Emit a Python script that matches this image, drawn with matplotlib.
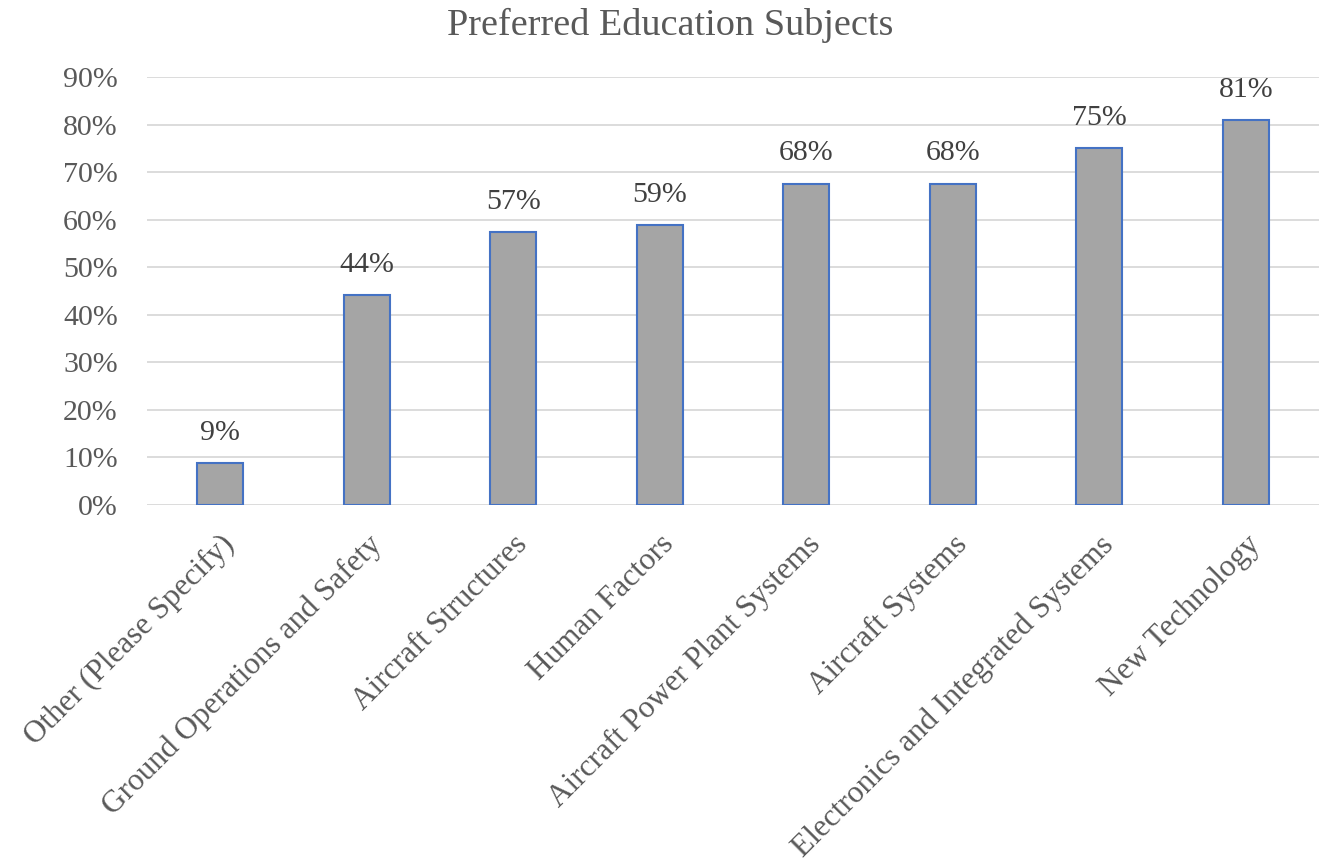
import matplotlib.pyplot as plt
from matplotlib.ticker import PercentFormatter

categories = ['Other (Please Specify)', 'Ground Operations and Safety',
              'Aircraft Structures', 'Human Factors',
              'Aircraft Power Plant Systems', 'Aircraft Systems',
              'Electronics and Integrated Systems', 'New Technology']
values = [0.088, 0.441, 0.574, 0.588, 0.676, 0.676, 0.750, 0.809]
value_labels = ['9%', '44%', '57%', '59%', '68%', '68%', '75%', '81%']

plt.rcParams['font.family'] = ['Liberation Serif', 'DejaVu Serif']
TEXT = '#595959'

fig = plt.figure(figsize=(13.25, 8.65), dpi=100)
ax = fig.add_axes([147/1325, 1 - 505/865, (1319-147)/1325, (505-77)/865])

x = range(len(categories))
bars = ax.bar(x, values, width=0.315, color='#a5a5a5', edgecolor='#4472c4', linewidth=1.5, zorder=3)

for b, lab in zip(bars, value_labels):
    ax.text(b.get_x() + b.get_width()/2, b.get_height() + 0.036, lab,
            ha='center', va='bottom', fontsize=21.5, color='#404040')

ax.set_xlim(-0.5, len(categories) - 0.5)
ax.set_ylim(0, 0.9)
ax.set_yticks([i/10 for i in range(10)])
ax.yaxis.set_major_formatter(PercentFormatter(1.0, decimals=0))
ax.grid(axis='y', color='#d9d9d9', linewidth=1.3, zorder=0)
for s in ax.spines.values():
    s.set_visible(False)
ax.tick_params(axis='both', length=0, labelcolor=TEXT)
ax.tick_params(axis='y', pad=21, labelsize=21.5)
ax.set_xticks(list(x))
ax.set_xticklabels(categories, rotation=45, ha='right', rotation_mode='anchor')
ax.tick_params(axis='x', pad=18, labelsize=22.5)

fig.text(670/1325, 1 - 25/865, 'Preferred Education Subjects', ha='center', va='center',
         fontsize=27.5, color=TEXT)

fig.savefig('out.png', dpi=100)
